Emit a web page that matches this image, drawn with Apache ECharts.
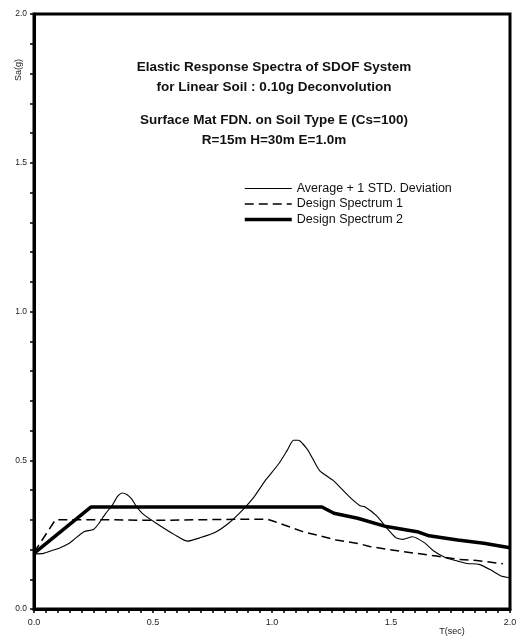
<!DOCTYPE html>
<html><head><meta charset="utf-8">
<script src="https://cdn.jsdelivr.net/npm/echarts@6/dist/echarts.min.js"></script>
<style>html,body{margin:0;padding:0;background:#fff}#c{width:523px;height:642px}</style>
</head><body><div id="c"></div>
<script>
const titleLines = ["Elastic Response Spectra of SDOF System","for Linear Soil : 0.10g Deconvolution","Surface Mat FDN. on Soil Type E (Cs=100)","R=15m H=30m E=1.0m"];
const seriesNames = ["Average + 1 STD. Deviation","Design Spectrum 1","Design Spectrum 2"];
const avgT  = [0,0.04,0.07,0.11,0.15,0.17,0.21,0.25,0.27,0.30,0.33,0.35,0.37,0.39,0.41,0.43,0.46,0.52,0.59,0.645,0.70,0.76,0.82,0.88,0.925,0.97,1.03,1.065,1.09,1.11,1.15,1.20,1.26,1.32,1.37,1.39,1.44,1.48,1.52,1.55,1.59,1.64,1.68,1.73,1.78,1.82,1.87,1.92,1.96,2.0];
const avgSa = [0.185,0.187,0.195,0.206,0.222,0.235,0.26,0.267,0.285,0.32,0.35,0.378,0.39,0.385,0.37,0.345,0.318,0.285,0.25,0.228,0.24,0.257,0.29,0.336,0.377,0.43,0.49,0.535,0.567,0.567,0.535,0.465,0.43,0.381,0.347,0.344,0.313,0.274,0.24,0.234,0.243,0.223,0.195,0.172,0.161,0.153,0.15,0.131,0.112,0.105];
const ds1T  = [0,0.09,0.30,0.50,0.70,0.90,0.98,1.01,1.13,1.27,1.37,1.41,1.55,1.69,1.78,1.86,1.97];
const ds1Sa = [0.19,0.30,0.30,0.298,0.30,0.302,0.302,0.294,0.26,0.232,0.219,0.21,0.193,0.178,0.167,0.163,0.152];
const ds2T  = [0,0.24,1.21,1.26,1.36,1.48,1.61,1.66,1.78,1.89,2.0];
const ds2Sa = [0.187,0.343,0.343,0.322,0.305,0.277,0.26,0.246,0.232,0.221,0.206];
const xTickLabels = ["0.0","0.5","1.0","1.5","2.0"];
const yTickLabels = ["0.0","0.5","1.0","1.5","2.0"];

const zip = (a,b)=>a.map((v,i)=>[v,b[i]]);
const ff = "'Liberation Sans', Arial, sans-serif";
const chart = echarts.init(document.getElementById('c'));
const lbl = (arr)=> (v)=>{ const k=Math.round(v*20); return (k%10===0)? arr[k/10] : ''; };
const styles = [
  {color:'#000',width:1.1,type:'solid'},
  {color:'#000',width:1.5,type:[9,5]},
  {color:'#000',width:3.5,type:'solid'}
];
chart.setOption({
  backgroundColor:'#fff',
  animation:false,
  grid:{left:34,right:13,top:14,bottom:33,show:true,borderColor:'#000',borderWidth:3,backgroundColor:'transparent'},
  xAxis:{type:'value',min:0,max:2,interval:0.05,
    axisLine:{lineStyle:{color:'#000',width:3}},
    axisTick:{length:4,lineStyle:{color:'#000',width:1.5}},
    splitLine:{show:false},
    axisLabel:{formatter:lbl(xTickLabels),color:'#222',fontSize:9,fontFamily:ff,margin:9,showMaxLabel:true,showMinLabel:true}},
  yAxis:{type:'value',min:0,max:2,interval:0.1,
    axisLine:{lineStyle:{color:'#000',width:3}},
    axisTick:{length:4,lineStyle:{color:'#000',width:1.5}},
    splitLine:{show:false},
    axisLabel:{formatter:lbl(yTickLabels),color:'#222',fontSize:8.5,fontFamily:ff,margin:7}},
  legend:{orient:'vertical',left:243,top:182,padding:0,itemWidth:47,itemHeight:12,itemGap:2.5,
    itemStyle:{opacity:0},
    textStyle:{fontSize:12.5,lineHeight:12,fontFamily:ff,color:'#111'},
    data:seriesNames.map((n,i)=>({name:n,lineStyle:Object.assign({},styles[i])}))},
  graphic:[
    {type:'text',style:{text:titleLines[0],x:274,y:67,textAlign:'center',textVerticalAlign:'middle',font:"bold 13.5px "+ff,fill:'#111'}},
    {type:'text',style:{text:titleLines[1],x:274,y:87,textAlign:'center',textVerticalAlign:'middle',font:"bold 13.5px "+ff,fill:'#111'}},
    {type:'text',style:{text:titleLines[2],x:274,y:120,textAlign:'center',textVerticalAlign:'middle',font:"bold 13.5px "+ff,fill:'#111'}},
    {type:'text',style:{text:titleLines[3],x:274,y:140,textAlign:'center',textVerticalAlign:'middle',font:"bold 13.5px "+ff,fill:'#111'}},
    {type:'text',rotation:Math.PI/2,x:19,y:70,style:{text:'Sa(g)',textAlign:'center',textVerticalAlign:'middle',font:"9px "+ff,fill:'#222'}},
    {type:'text',style:{text:'T(sec)',x:452,y:632,textAlign:'center',textVerticalAlign:'middle',font:"9px "+ff,fill:'#222'}}
  ],
  series:[
    {name:seriesNames[0],type:'line',data:zip(avgT,avgSa),symbol:'none',smooth:0.2,lineStyle:styles[0],itemStyle:{color:'#000'}},
    {name:seriesNames[1],type:'line',data:zip(ds1T,ds1Sa),symbol:'none',lineStyle:styles[1],itemStyle:{color:'#000'}},
    {name:seriesNames[2],type:'line',data:zip(ds2T,ds2Sa),symbol:'none',lineStyle:styles[2],itemStyle:{color:'#000'}}
  ]
});
</script></body></html>
